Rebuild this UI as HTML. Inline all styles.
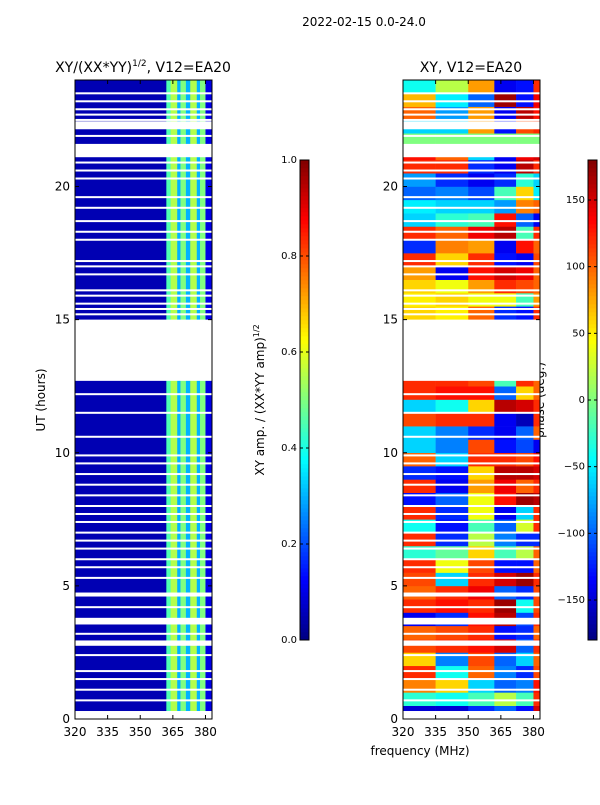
<!DOCTYPE html>
<html><head><meta charset="utf-8"><style>
body{margin:0;background:#fff;width:600px;height:800px;overflow:hidden}
svg text{font-family:"DejaVu Sans","Liberation Sans",sans-serif;font-size:12px;fill:#000}
</style></head><body>
<svg id="fig" width="600" height="800" xmlns="http://www.w3.org/2000/svg">
<text x="364" y="26" text-anchor="middle" font-size="12">2022-02-15 0.0-24.0</text>
<text x="143" y="72" text-anchor="middle" style="font-size:14px">XY/(XX*YY)<tspan dy="-6" style="font-size:9px">1/2</tspan><tspan dy="6">, V12=EA20</tspan></text>
<text x="471" y="72" text-anchor="middle" style="font-size:14px">XY, V12=EA20</text>
<text transform="translate(45,400) rotate(-90)" text-anchor="middle">UT (hours)</text>
<text transform="translate(264,400) rotate(-90)" text-anchor="middle">XY amp. / (XX*YY amp)<tspan dy="-5" style="font-size:8px">1/2</tspan></text>
<text transform="translate(544,400) rotate(-90)" text-anchor="middle">phase (deg.)</text>
<text x="420" y="755" text-anchor="middle">frequency (MHz)</text>
<g id="left"></g>
<g id="right"></g>
<g id="cb1"></g>
<g id="cb2"></g>
</svg>
<script>
// ---- data ----
const ampFreqEdges=[320,362,364,367,368.5,371,373,376,377.5,380,383];
const ampBandValues=[0.05,0.45,0.55,0.3,0.5,0.3,0.55,0.3,0.5,0.1];
const phaseFreqEdges=[320,335,350,362,372,380,383];
const phaseRowHours=0.5;
const phaseValues=[
[-150,-150,-120,-100,-130,150],[-30,-40,-20,20,-20,120],[90,60,-60,-100,-90,130],[120,-40,100,-90,-120,110],
[60,-90,110,-100,-60,100],[110,120,130,150,-100,120],[100,110,120,-130,-120,100],[-140,-120,130,160,-110,120],
[120,130,120,170,-40,110],[100,120,140,-100,-120,110],[110,-60,120,150,170,120],[120,40,110,-130,-130,100],
[-30,-10,60,-20,20,100],[120,-120,20,-90,-120,-120],[-40,-130,-20,-100,30,120],[120,-120,40,-140,-60,120],
[-130,-100,40,130,170,160],[120,-140,80,140,100,120],[-120,-130,60,160,160,150],[100,-60,120,120,110,130],
[-60,-90,110,-130,-110,-140],[-60,-90,-120,-140,-100,100],[110,120,120,-140,-160,120],[-60,-40,60,160,150,120],
[120,130,130,-100,60,100],[120,120,110,-20,120,100],[0,0,0,0,0,0],[0,0,0,0,0,0],[0,0,0,0,0,0],[0,0,0,0,0,0],
[60,50,100,-120,-130,120],[50,60,40,40,-20,80],[60,40,80,120,110,100],[80,-140,130,150,140,100],
[120,60,120,-130,-140,110],[-120,90,80,-140,130,100],[120,100,140,160,-20,120],[-60,-30,-20,130,-100,-140],
[-50,-60,-60,-80,90,100],[-100,-90,-110,-20,60,-50],[-80,-120,-140,-120,-30,-60],[120,120,-120,-140,160,120],
[130,100,-60,-140,140,150],[0,0,0,0,0,0],[-60,-60,80,-130,110,120],[100,-80,80,-140,160,130],
[70,-50,-100,170,-130,140],[-40,20,80,-140,-130,120]];
const gapRanges=[[0,0.3],[12.7,15],[3.55,3.8],[4.6,4.75],[2.75,2.95],[21.1,21.6],[22.15,22.45]];
const thinGapHours=[23.5,23.2,22.9,22.7,22.5,21.9,20.9,20.6,20.3,19.6,19.2,18.7,18.3,18.0,17.2,17.0,16.7,16.1,15.9,15.6,15.4,15.2,12.2,11.5,10.6,9.9,9.6,9.2,8.8,8.4,8.0,7.7,7.4,7.0,6.7,6.4,6.0,5.7,5.3,4.2,3.2,2.4,1.8,1.5,1.1,0.7];
const yTicks=[0,5,10,15,20];
const xTicks=[320,335,350,365,380];
const ampTicks=[0,0.2,0.4,0.6,0.8,1.0];
const phaseTicks=[-150,-100,-50,0,50,100,150];
// ---- helpers ----
const NS="http://www.w3.org/2000/svg";
function jet(v){v=Math.max(0,Math.min(1,v));
 const r=Math.max(0,Math.min(1,1.5-Math.abs(4*v-3))),g=Math.max(0,Math.min(1,1.5-Math.abs(4*v-2))),b=Math.max(0,Math.min(1,1.5-Math.abs(4*v-1)));
 return `rgb(${Math.round(r*255)},${Math.round(g*255)},${Math.round(b*255)})`;}
function mk(parent,tag,attrs){const e=document.createElementNS(NS,tag);for(const k in attrs)e.setAttribute(k,attrs[k]);parent.appendChild(e);return e;}
const Y=h=>719-h*(639/24);
function panel(gid,x0,x1,drawCells,prefix){
 const g=document.getElementById(gid);
 const X=f=>x0+(f-320)*(x1-x0)/(383-320);
 drawCells(g,X);
 gapRanges.forEach(r=>{const e=mk(g,'rect',{x:x0,y:Y(r[1]),width:x1-x0,height:Y(r[0])-Y(r[1]),fill:'#fff'});
  
  });
 thinGapHours.forEach(h=>{const e=mk(g,'rect',{x:x0,y:Y(h)-1,width:x1-x0,height:2,fill:'#fff'});
  
  });
 const fr=mk(g,'rect',{x:x0,y:80,width:x1-x0,height:639,fill:'none',stroke:'#000','stroke-width':1});
 
 
 yTicks.forEach(t=>{mk(g,'line',{x1:x0,x2:x0+4,y1:Y(t),y2:Y(t),stroke:'#000'});mk(g,'line',{x1:x1,x2:x1-4,y1:Y(t),y2:Y(t),stroke:'#000'});
  const tx=mk(g,'text',{x:x0-5,y:Y(t)+4,'text-anchor':'end'});tx.textContent=t;
  
  });
 xTicks.forEach(t=>{mk(g,'line',{x1:X(t),x2:X(t),y1:719,y2:715,stroke:'#000'});mk(g,'line',{x1:X(t),x2:X(t),y1:80,y2:84,stroke:'#000'});
  const tx=mk(g,'text',{x:X(t),y:736,'text-anchor':'middle'});tx.textContent=t;
  
  });
}
panel('left',75,212,(g,X)=>{
 for(let i=0;i<ampBandValues.length;i++){
  const e=mk(g,'rect',{x:X(ampFreqEdges[i]),y:80,width:X(ampFreqEdges[i+1])-X(ampFreqEdges[i])+0.3,height:639,fill:jet(ampBandValues[i])});
  
  }
},'amp');
panel('right',403,540,(g,X)=>{
 phaseValues.forEach((row,r)=>{row.forEach((v,c)=>{
  const e=mk(g,'rect',{x:X(phaseFreqEdges[c]),y:Y((r+1)*phaseRowHours),width:X(phaseFreqEdges[c+1])-X(phaseFreqEdges[c])+0.3,height:Y(r*phaseRowHours)-Y((r+1)*phaseRowHours)+0.3,fill:jet((v+180)/360)});
  
  });});
},'phase');
function colorbar(gid,x,ticks,lo,hi,fmt){
 const g=document.getElementById(gid);const y0=160,y1=640;
 for(let i=0;i<120;i++){mk(g,'rect',{x:x,y:y1-(i+1)*4,width:9,height:4.3,fill:jet((i+0.5)/120)});}
 mk(g,'rect',{x:x,y:y0,width:9,height:y1-y0,fill:'none',stroke:'#000'});
 ticks.forEach(t=>{const y=y1-(t-lo)/(hi-lo)*(y1-y0);
  mk(g,'line',{x1:x,x2:x+3,y1:y,y2:y,stroke:'#000'});mk(g,'line',{x1:x+9,x2:x+6,y1:y,y2:y,stroke:'#000'});
  const tx=mk(g,'text',{x:x-3,y:y+3,'text-anchor':'end','style':'font-size:10px'});tx.textContent=fmt(t);
  
  });
}
colorbar('cb1',300,ampTicks,0,1,t=>t.toFixed(1));
colorbar('cb2',588,phaseTicks,-180,180,t=>t<0?'\u2212'+(-t):String(t));
</script>
</body></html>
